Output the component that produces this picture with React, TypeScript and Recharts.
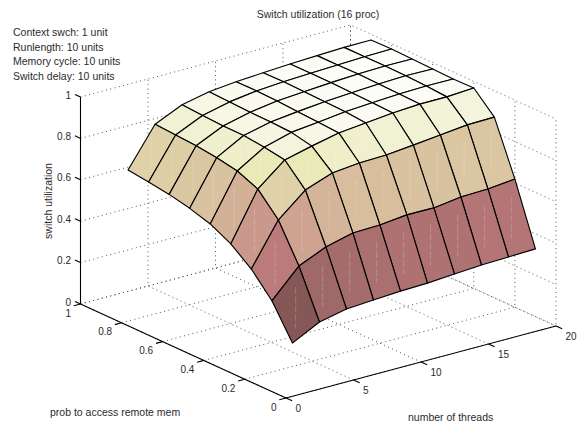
import { ScatterChart, Scatter, XAxis, YAxis } from "recharts";

const threads = [2, 4, 6, 8, 10, 12, 14, 16, 18, 20];
const probs = [0.1, 0.2, 0.3, 0.4, 0.5, 0.6, 0.7, 0.8, 0.9];

// switch utilization, one list per remote access probability
const util01 = [0.185, 0.252, 0.28, 0.289, 0.297, 0.301, 0.31, 0.319, 0.323, 0.327];
const util02 = [0.344, 0.477, 0.534, 0.567, 0.571, 0.585, 0.584, 0.602, 0.606, 0.619];
const util03 = [0.452, 0.654, 0.764, 0.812, 0.825, 0.829, 0.842, 0.856, 0.87, 0.873];
const util04 = [0.528, 0.758, 0.864, 0.896, 0.925, 0.938, 0.952, 0.96, 0.96, 0.968];
const util05 = [0.579, 0.8, 0.88, 0.917, 0.931, 0.947, 0.956, 0.963, 0.967, 0.966];
const util06 = [0.609, 0.819, 0.891, 0.922, 0.937, 0.95, 0.959, 0.966, 0.971, 0.969];
const util07 = [0.631, 0.831, 0.892, 0.923, 0.943, 0.953, 0.962, 0.969, 0.973, 0.972];
const util08 = [0.645, 0.838, 0.897, 0.928, 0.946, 0.956, 0.962, 0.967, 0.972, 0.975];
const util09 = [0.658, 0.844, 0.904, 0.932, 0.945, 0.954, 0.961, 0.967, 0.972, 0.973];
const utilRows = [util01, util02, util03, util04, util05, util06, util07, util08, util09];

const threadTicks = [0, 5, 10, 15, 20];
const probTicks = [0, 0.2, 0.4, 0.6, 0.8, 1];
const utilTicks = [0, 0.2, 0.4, 0.6, 0.8, 1];

const notes = [
  "Context swch: 1 unit",
  "Runlength: 10 units",
  "Memory cycle: 10 units",
  "Switch delay: 10 units",
];

const WIDTH = 578;
const HEIGHT = 423;
const FONT = "'Liberation Sans', Arial, sans-serif";
const TEXT_COLOR = "#2b2b2b";
const TEXT_SIZE = 10.5;
const TICK_SIZE = 10;

// fixed 3D view of the box, fitted to the picture
const project = (x: number, y: number, z: number) => ({
  x: 286 + 13.5 * x - 205.5 * y,
  y: 398 - 3.6 * x - 94 * y - 207 * z,
});

// MATLAB pink colormap, 64 levels, color limits 0..1
const pink = (value: number) => {
  const t = Math.min(Math.floor(value * 64), 63) / 63;
  const clamp = (v: number) => Math.max(0, Math.min(1, v));
  const hot = [clamp(t / 0.375), clamp((t - 0.375) / 0.375), clamp((t - 0.75) / 0.25)];
  const [r, g, b] = hot.map((h) => Math.round(Math.sqrt((2 * t + h) / 3) * 255));
  return `rgb(${r},${g},${b})`;
};

const NoMark = () => <g />;

const textShape =
  (anchor: string, size: number, rotate = 0) =>
  (props: any) => (
    <text
      x={props.cx}
      y={props.cy}
      textAnchor={anchor}
      fontFamily={FONT}
      fontSize={size}
      fill={TEXT_COLOR}
      transform={rotate ? `rotate(${rotate} ${props.cx} ${props.cy})` : undefined}
    >
      {props.payload.label}
    </text>
  );

const polyLine = (key: string, pts: { x: number; y: number }[], style: any) => (
  <Scatter
    key={key}
    data={pts}
    shape={NoMark}
    line={style}
    lineType="joint"
    isAnimationActive={false}
  />
);

// the print of this figure leaves a faint light streak down the middle of steep cells
const streak = (c: { x: number; y: number }[]) => {
  const ys = c.map((q) => q.y);
  const top = Math.min(...ys);
  const bottom = Math.max(...ys);
  if (bottom - top < 32) return null;
  const mx = c.reduce((s, q) => s + q.x, 0) / 4;
  const my = c.reduce((s, q) => s + q.y, 0) / 4;
  const half = (bottom - top) * 0.27;
  return (
    <line
      x1={mx}
      x2={mx}
      y1={my - half}
      y2={my + half}
      stroke="#fff"
      strokeOpacity={0.2}
      strokeWidth={1}
      strokeDasharray="7 2"
    />
  );
};

const quad = (key: string, pts: { x: number; y: number }[], fill: string) => (
  <Scatter
    key={key}
    data={pts}
    shape={NoMark}
    lineType="joint"
    isAnimationActive={false}
    line={(p: any) => (
      <g>
        <polygon
          points={p.points.map((c: any) => `${c.x},${c.y}`).join(" ")}
          fill={fill}
          stroke="#000"
          strokeWidth={1.15}
          strokeLinejoin="round"
        />
        {streak(p.points)}
      </g>
    )}
  />
);

const label = (
  key: string,
  at: { x: number; y: number },
  text: string,
  anchor: string,
  size = TEXT_SIZE,
  rotate = 0
) => (
  <Scatter
    key={key}
    data={[{ ...at, label: text }]}
    shape={textShape(anchor, size, rotate)}
    isAnimationActive={false}
  />
);

const DOTTED = { stroke: "#555", strokeWidth: 1, strokeDasharray: "1 3.4" };
const SOLID = { stroke: "#000", strokeWidth: 1.1 };

function GridLines() {
  const lines: any[] = [];
  utilTicks.forEach((z) => {
    lines.push(polyLine(`wall-z-${z}`, [project(0, 1, z), project(20, 1, z), project(20, 0, z)], DOTTED));
  });
  threadTicks.forEach((x) => {
    lines.push(polyLine(`grid-x-${x}`, [project(x, 0, 0), project(x, 1, 0), project(x, 1, 1)], DOTTED));
  });
  probTicks.forEach((y) => {
    lines.push(polyLine(`grid-y-${y}`, [project(0, y, 0), project(20, y, 0), project(20, y, 1)], DOTTED));
  });
  return lines;
}

function AxisLines() {
  const lines: any[] = [
    polyLine("axis-z", [project(0, 1, 0), project(0, 1, 1)], SOLID),
    polyLine("axis-y", [project(0, 0, 0), project(0, 1, 0)], SOLID),
    polyLine("axis-x", [project(0, 0, 0), project(20, 0, 0)], SOLID),
  ];
  utilTicks.forEach((z) => {
    lines.push(polyLine(`tick-z-${z}`, [project(0, 1, z), project(0, 1.027, z)], SOLID));
    const p = project(0, 1, z);
    lines.push(label(`text-z-${z}`, { x: p.x - 9.5, y: p.y + 1.5 }, String(z), "end", TICK_SIZE));
  });
  probTicks.forEach((y) => {
    lines.push(polyLine(`tick-y-${y}`, [project(0, y, 0), project(-0.5, y, 0)], SOLID));
    const p = project(0, y, 0);
    lines.push(label(`text-y-${y}`, { x: p.x - 9.5, y: p.y + 12.5 }, String(y), "end", TICK_SIZE));
  });
  threadTicks.forEach((x) => {
    lines.push(polyLine(`tick-x-${x}`, [project(x, 0, 0), project(x, -0.03, 0)], SOLID));
    const p = project(x, 0, 0);
    lines.push(label(`text-x-${x}`, { x: p.x + 9.5, y: p.y + 14 }, String(x), "start", TICK_SIZE));
  });
  return lines;
}

function Surface() {
  const cells: any[] = [];
  // back to front so nearer cells cover farther ones
  for (let j = probs.length - 2; j >= 0; j--) {
    for (let i = threads.length - 2; i >= 0; i--) {
      cells.push(
        quad(
          `cell-${j}-${i}`,
          [
            project(threads[i], probs[j], utilRows[j][i]),
            project(threads[i + 1], probs[j], utilRows[j][i + 1]),
            project(threads[i + 1], probs[j + 1], utilRows[j + 1][i + 1]),
            project(threads[i], probs[j + 1], utilRows[j + 1][i]),
          ],
          pink(utilRows[j][i])
        )
      );
    }
  }
  return cells;
}

export default function App() {
  return (
    <div style={{ position: "absolute", left: 0, top: 0, width: WIDTH, height: HEIGHT }}>
      <ScatterChart width={WIDTH} height={HEIGHT} margin={{ top: 0, right: 0, bottom: 0, left: 0 }}>
        <XAxis type="number" dataKey="x" domain={[0, WIDTH]} allowDataOverflow hide />
        <YAxis type="number" dataKey="y" domain={[0, HEIGHT]} allowDataOverflow reversed hide />
        {GridLines()}
        {AxisLines()}
        {Surface()}
        {label("title", { x: 318, y: 18 }, "Switch utilization (16 proc)", "middle")}
        {notes.map((note, i) => label(`note-${i}`, { x: 13, y: 36 + i * 14.6 }, note, "start"))}
        {label("z-title", { x: 52, y: 201 }, "switch utilization", "middle", TEXT_SIZE, -90)}
        {label("y-title", { x: 50, y: 416 }, "prob to access remote mem", "start")}
        {label("x-title", { x: 408, y: 421 }, "number of threads", "start")}
      </ScatterChart>
    </div>
  );
}
